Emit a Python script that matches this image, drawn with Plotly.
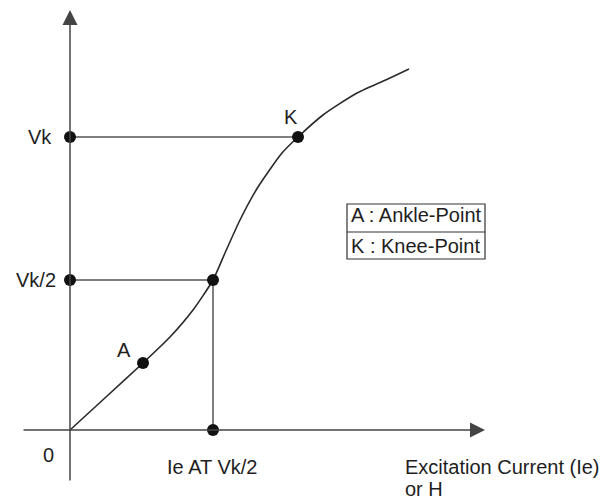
import plotly.graph_objects as go

# ---- data (excitation current vs. voltage, arbitrary units) ----
curve_current = [0, 36, 73, 100, 123, 143, 155, 170, 188, 212, 228, 253, 287, 320, 339]
curve_voltage = [0, 33, 67, 93, 120, 150, 177, 210, 243, 277, 293, 315, 337, 352, 361]

point_names = ["A", "Vk/2 point", "K"]
point_current = [73, 143, 228]
point_voltage = [67, 150, 293]

V_k = 293
V_k_half = 150
Ie_at_Vk_half = 143

axis_x_min, axis_x_max = -48, 415
axis_y_min, axis_y_max = -52, 420

legend_lines = ["A : Ankle-Point", "K : Knee-Point"]

FONT = "Liberation Sans, Arial, Helvetica, sans-serif"
AXC = "#555555"
TXT = "#1e1e1e"
FS = 20

fig = go.Figure()

# guide lines
fig.add_trace(go.Scatter(x=[0, point_current[2]], y=[V_k, V_k], mode="lines",
                         line=dict(color=AXC, width=1.5), hoverinfo="skip"))
fig.add_trace(go.Scatter(x=[0, Ie_at_Vk_half, Ie_at_Vk_half], y=[V_k_half, V_k_half, 0],
                         mode="lines", line=dict(color=AXC, width=1.5), hoverinfo="skip"))

# curve
fig.add_trace(go.Scatter(x=curve_current, y=curve_voltage, mode="lines",
                         line=dict(color="#2a2a2a", width=1.6, shape="spline", smoothing=0.6),
                         hoverinfo="skip"))

# dots
dot_x = point_current + [0, 0, Ie_at_Vk_half]
dot_y = point_voltage + [V_k, V_k_half, 0]
fig.add_trace(go.Scatter(x=dot_x, y=dot_y, mode="markers",
                         marker=dict(color="#111111", size=12), hoverinfo="skip"))

ann = []
# axes with arrowheads
ann.append(dict(x=axis_x_max, y=0, ax=axis_x_min, ay=0, xref="x", yref="y",
                axref="x", ayref="y", text="", showarrow=True, arrowhead=2,
                arrowsize=2.0, arrowwidth=1.5, arrowcolor="#444444"))
ann.append(dict(x=0, y=axis_y_max, ax=0, ay=axis_y_min, xref="x", yref="y",
                axref="x", ayref="y", text="", showarrow=True, arrowhead=2,
                arrowsize=2.0, arrowwidth=1.5, arrowcolor="#444444"))

def label(x, y, text, xanchor="center", size=FS):
    ann.append(dict(x=x, y=y, xref="x", yref="y", text=text, showarrow=False,
                    xanchor=xanchor, yanchor="middle",
                    font=dict(family=FONT, size=size, color=TXT)))

label(-16, V_k, "Vk", "right")
label(-12, V_k_half, "Vk/2", "right")
label(-22, -25, "0")
label(point_current[0] - 19, point_voltage[0] + 13, "A")
label(point_current[2] - 7, V_k + 20, "K")
label(Ie_at_Vk_half - 1, -37, "Ie AT Vk/2")
label(333, -37, "Excitation Current (Ie)", "left")
label(333, -59, "or H", "left")

# legend box
label(279, 215, legend_lines[0], "left", 20)
label(279, 184, legend_lines[1], "left", 20)

shapes = [
    dict(type="rect", xref="x", yref="y", x0=277, x1=415, y0=171, y1=226,
         line=dict(color="#333333", width=1.2)),
    dict(type="line", xref="x", yref="y", x0=277, x1=415, y0=198, y1=198,
         line=dict(color="#333333", width=1.2)),
]

fig.update_layout(
    width=603, height=501,
    margin=dict(l=0, r=0, t=0, b=0),
    paper_bgcolor="white", plot_bgcolor="white",
    showlegend=False,
    xaxis=dict(range=[-70, 533], visible=False, fixedrange=True),
    yaxis=dict(range=[-71, 430], visible=False, fixedrange=True),
    annotations=ann, shapes=shapes,
)

fig.write_html("out.html", config={"displayModeBar": False, "staticPlot": True},
               post_script="document.body.style.margin='0px';document.body.style.overflow='hidden';")
